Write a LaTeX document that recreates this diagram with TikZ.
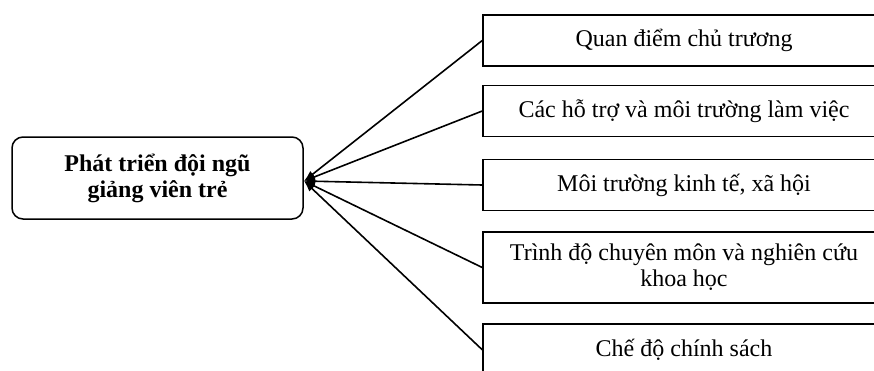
\documentclass[tikz,border=0pt]{standalone}
\usepackage{fontspec}
\setmainfont{Liberation Serif}
\usetikzlibrary{arrows.meta}
\tikzset{
  rbox/.style={draw, line width=1.5pt, minimum width=402pt, minimum height=51pt, align=center, font=\fontsize{24}{26}\selectfont, inner sep=0pt},
  mainbox/.style={draw, line width=1.5pt, rounded corners=11pt, minimum width=291pt, minimum height=82pt, align=center, font=\fontsize{24}{26}\selectfont\bfseries, inner sep=0pt},
  conn/.style={line width=1.6pt, {Latex[length=11pt,width=8pt]}-}
}
\begin{document}
\begin{tikzpicture}[x=1pt,y=-1pt]
\clip (0,0) rectangle (874,370);
\node[mainbox] (main) at (157.5,178) {Phát triển đội ngũ\\giảng viên trẻ};
\coordinate (hub) at (304,181);
\node[rbox] (b1) at (684,40.5) {Quan điểm chủ trương};
\node[rbox] (b2) at (684,111) {Các hỗ trợ và môi trường làm việc};
\node[rbox] (b3) at (684,185) {Môi trường kinh tế, xã hội};
\node[rbox, minimum height=71pt] (b4) at (684,267.5) {Trình độ chuyên môn và nghiên cứu\\khoa học};
\node[rbox, anchor=north, minimum height=52pt] (b5) at (684,323) {Chế độ chính sách};
\foreach \b in {b1,b2,b3,b4,b5}
  \draw[conn] (hub) -- (\b.west);
\end{tikzpicture}
\end{document}
